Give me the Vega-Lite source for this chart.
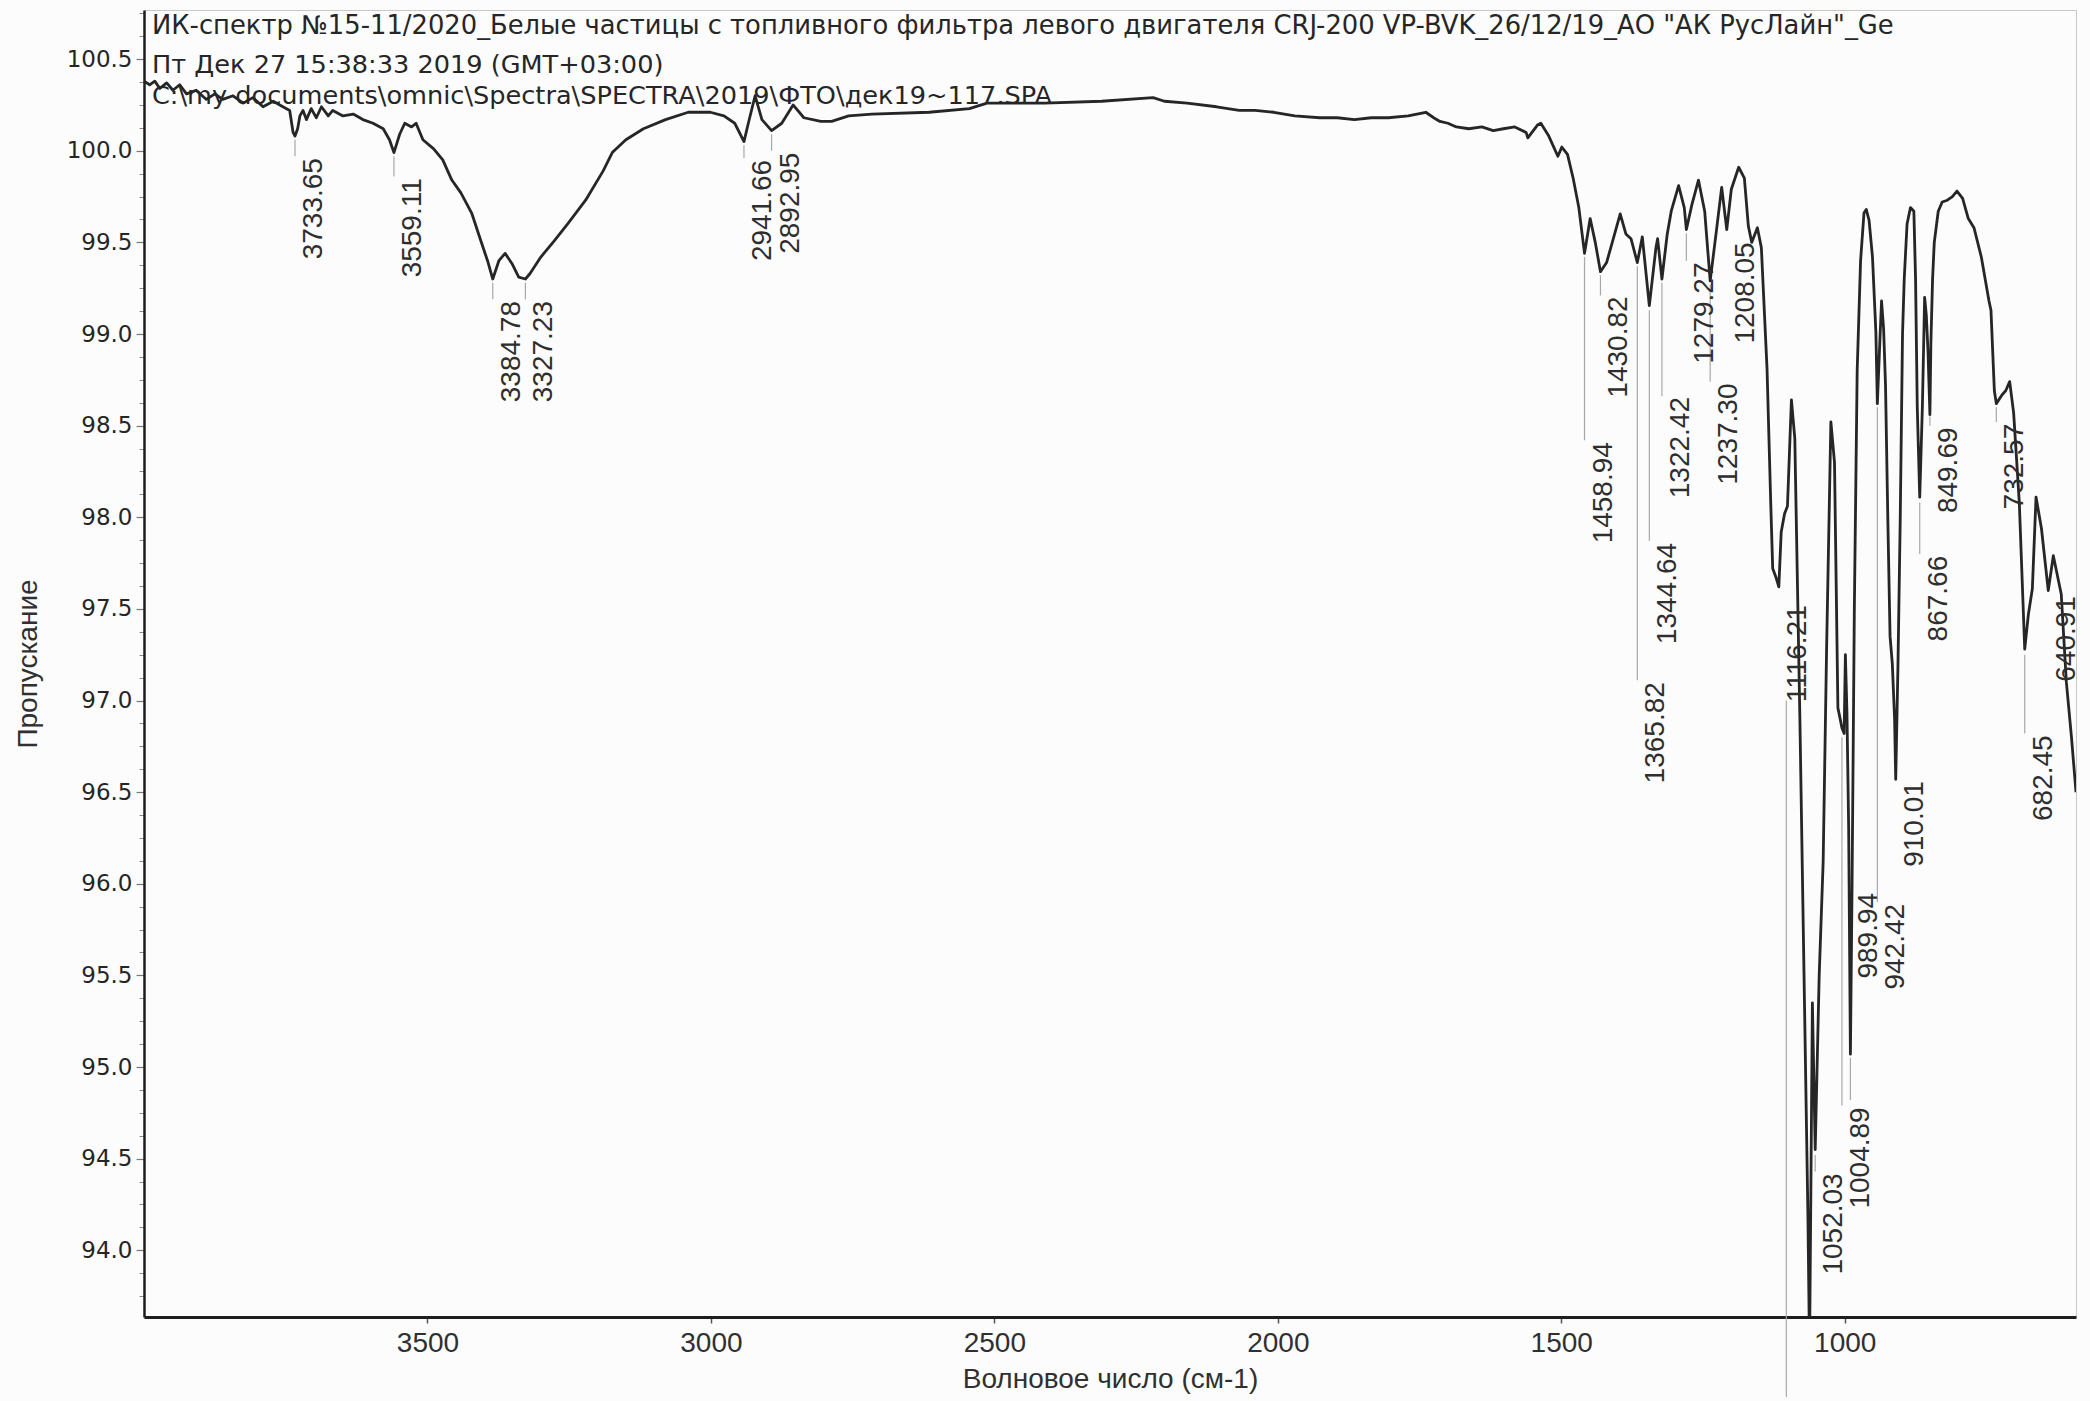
{
  "$schema": "https://vega.github.io/schema/vega-lite/v6.json",
  "width": 1932,
  "height": 1307,
  "autosize": {"type": "none"},
  "padding": {"left": 144, "top": 10, "right": 14, "bottom": 84},
  "background": "#fcfcfc",
  "title": {
    "text": "ИК-спектр №15-11/2020_Белые частицы с топливного фильтра левого двигателя CRJ-200 VP-BVK_26/12/19_АО \"АК РусЛайн\"_Ge",
    "subtitle": ["Пт Дек 27 15:38:33 2019 (GMT+03:00)", "C:\\my documents\\omnic\\Spectra\\SPECTRA\\2019\\ФТО\\дек19~117.SPA"],
    "anchor": "start",
    "frame": "group",
    "orient": "top",
    "offset": -101,
    "dx": 8,
    "font": "DejaVu Sans",
    "fontSize": 25.8,
    "fontWeight": "normal",
    "color": "#262626",
    "subtitleFont": "DejaVu Sans",
    "subtitleFontSize": 25.6,
    "subtitleColor": "#262626",
    "subtitlePadding": 14,
    "subtitleLineHeight": 31
  },
  "config": {
    "view": {"stroke": "#c8c8c8", "strokeWidth": 1},
    "axis": {"grid": false, "zindex": 1}
  },
  "datasets": {
    "spectrum": [
      {"wavenumber": 4000, "transmittance": 100.38}, {"wavenumber": 3990, "transmittance": 100.36}, {"wavenumber": 3981, "transmittance": 100.38},
      {"wavenumber": 3972, "transmittance": 100.34}, {"wavenumber": 3960, "transmittance": 100.37}, {"wavenumber": 3949, "transmittance": 100.33},
      {"wavenumber": 3937, "transmittance": 100.36}, {"wavenumber": 3925, "transmittance": 100.31}, {"wavenumber": 3908, "transmittance": 100.33},
      {"wavenumber": 3890, "transmittance": 100.28}, {"wavenumber": 3875, "transmittance": 100.31}, {"wavenumber": 3861, "transmittance": 100.28},
      {"wavenumber": 3843, "transmittance": 100.30}, {"wavenumber": 3825, "transmittance": 100.26}, {"wavenumber": 3808, "transmittance": 100.29},
      {"wavenumber": 3790, "transmittance": 100.24}, {"wavenumber": 3772, "transmittance": 100.27}, {"wavenumber": 3755, "transmittance": 100.24},
      {"wavenumber": 3743, "transmittance": 100.22}, {"wavenumber": 3737, "transmittance": 100.10}, {"wavenumber": 3733.65, "transmittance": 100.08},
      {"wavenumber": 3729, "transmittance": 100.12}, {"wavenumber": 3725, "transmittance": 100.19}, {"wavenumber": 3719.5, "transmittance": 100.22},
      {"wavenumber": 3713.5, "transmittance": 100.17}, {"wavenumber": 3705, "transmittance": 100.23}, {"wavenumber": 3696, "transmittance": 100.18},
      {"wavenumber": 3687, "transmittance": 100.24}, {"wavenumber": 3675, "transmittance": 100.19}, {"wavenumber": 3667, "transmittance": 100.22},
      {"wavenumber": 3649, "transmittance": 100.19}, {"wavenumber": 3631, "transmittance": 100.20}, {"wavenumber": 3614, "transmittance": 100.17},
      {"wavenumber": 3596, "transmittance": 100.15}, {"wavenumber": 3578, "transmittance": 100.12}, {"wavenumber": 3567, "transmittance": 100.06},
      {"wavenumber": 3559.11, "transmittance": 99.99}, {"wavenumber": 3554, "transmittance": 100.04}, {"wavenumber": 3549, "transmittance": 100.09},
      {"wavenumber": 3540, "transmittance": 100.15}, {"wavenumber": 3528, "transmittance": 100.13}, {"wavenumber": 3520, "transmittance": 100.15},
      {"wavenumber": 3508, "transmittance": 100.06}, {"wavenumber": 3489, "transmittance": 100.01}, {"wavenumber": 3473, "transmittance": 99.95},
      {"wavenumber": 3457, "transmittance": 99.84}, {"wavenumber": 3441, "transmittance": 99.77}, {"wavenumber": 3422, "transmittance": 99.66},
      {"wavenumber": 3406, "transmittance": 99.51}, {"wavenumber": 3394, "transmittance": 99.40}, {"wavenumber": 3384.78, "transmittance": 99.30},
      {"wavenumber": 3374, "transmittance": 99.40}, {"wavenumber": 3363, "transmittance": 99.44}, {"wavenumber": 3351, "transmittance": 99.385},
      {"wavenumber": 3339, "transmittance": 99.31}, {"wavenumber": 3327.23, "transmittance": 99.30}, {"wavenumber": 3319, "transmittance": 99.33},
      {"wavenumber": 3300, "transmittance": 99.42}, {"wavenumber": 3276, "transmittance": 99.51}, {"wavenumber": 3253, "transmittance": 99.60},
      {"wavenumber": 3221, "transmittance": 99.73}, {"wavenumber": 3190, "transmittance": 99.89}, {"wavenumber": 3174, "transmittance": 99.99},
      {"wavenumber": 3150, "transmittance": 100.06}, {"wavenumber": 3119, "transmittance": 100.12}, {"wavenumber": 3080, "transmittance": 100.17},
      {"wavenumber": 3040, "transmittance": 100.21}, {"wavenumber": 3001, "transmittance": 100.21}, {"wavenumber": 2977, "transmittance": 100.19},
      {"wavenumber": 2958, "transmittance": 100.15}, {"wavenumber": 2941.66, "transmittance": 100.05}, {"wavenumber": 2934, "transmittance": 100.15},
      {"wavenumber": 2922, "transmittance": 100.30}, {"wavenumber": 2910, "transmittance": 100.17}, {"wavenumber": 2892.95, "transmittance": 100.11},
      {"wavenumber": 2875, "transmittance": 100.15}, {"wavenumber": 2855, "transmittance": 100.25}, {"wavenumber": 2836, "transmittance": 100.18},
      {"wavenumber": 2806, "transmittance": 100.16}, {"wavenumber": 2787, "transmittance": 100.16}, {"wavenumber": 2757, "transmittance": 100.19},
      {"wavenumber": 2716, "transmittance": 100.20}, {"wavenumber": 2615, "transmittance": 100.21}, {"wavenumber": 2544, "transmittance": 100.23},
      {"wavenumber": 2513, "transmittance": 100.26}, {"wavenumber": 2412, "transmittance": 100.26}, {"wavenumber": 2311, "transmittance": 100.27},
      {"wavenumber": 2220, "transmittance": 100.29}, {"wavenumber": 2200, "transmittance": 100.27}, {"wavenumber": 2160, "transmittance": 100.26},
      {"wavenumber": 2108, "transmittance": 100.24}, {"wavenumber": 2068, "transmittance": 100.22}, {"wavenumber": 2040, "transmittance": 100.22},
      {"wavenumber": 2007, "transmittance": 100.21}, {"wavenumber": 1970, "transmittance": 100.19}, {"wavenumber": 1926, "transmittance": 100.18},
      {"wavenumber": 1895, "transmittance": 100.18}, {"wavenumber": 1865, "transmittance": 100.17}, {"wavenumber": 1835, "transmittance": 100.18},
      {"wavenumber": 1805, "transmittance": 100.18}, {"wavenumber": 1770, "transmittance": 100.19}, {"wavenumber": 1739, "transmittance": 100.21},
      {"wavenumber": 1725, "transmittance": 100.18}, {"wavenumber": 1714, "transmittance": 100.16}, {"wavenumber": 1700, "transmittance": 100.15},
      {"wavenumber": 1685, "transmittance": 100.13}, {"wavenumber": 1663, "transmittance": 100.12}, {"wavenumber": 1640, "transmittance": 100.13},
      {"wavenumber": 1620, "transmittance": 100.11}, {"wavenumber": 1602, "transmittance": 100.12}, {"wavenumber": 1582, "transmittance": 100.13},
      {"wavenumber": 1562, "transmittance": 100.10}, {"wavenumber": 1559, "transmittance": 100.07}, {"wavenumber": 1542, "transmittance": 100.14},
      {"wavenumber": 1536, "transmittance": 100.15}, {"wavenumber": 1522, "transmittance": 100.08}, {"wavenumber": 1506, "transmittance": 99.97},
      {"wavenumber": 1499, "transmittance": 100.02}, {"wavenumber": 1489, "transmittance": 99.98}, {"wavenumber": 1479, "transmittance": 99.85},
      {"wavenumber": 1469, "transmittance": 99.69}, {"wavenumber": 1458.94, "transmittance": 99.44}, {"wavenumber": 1449, "transmittance": 99.63},
      {"wavenumber": 1440, "transmittance": 99.50}, {"wavenumber": 1430.82, "transmittance": 99.34}, {"wavenumber": 1420, "transmittance": 99.39},
      {"wavenumber": 1410, "transmittance": 99.50}, {"wavenumber": 1396, "transmittance": 99.655}, {"wavenumber": 1386, "transmittance": 99.546},
      {"wavenumber": 1377, "transmittance": 99.52}, {"wavenumber": 1365.82, "transmittance": 99.39}, {"wavenumber": 1357, "transmittance": 99.53},
      {"wavenumber": 1344.64, "transmittance": 99.155}, {"wavenumber": 1333, "transmittance": 99.47}, {"wavenumber": 1330, "transmittance": 99.52},
      {"wavenumber": 1322.42, "transmittance": 99.30}, {"wavenumber": 1313, "transmittance": 99.546}, {"wavenumber": 1306, "transmittance": 99.67},
      {"wavenumber": 1293, "transmittance": 99.81}, {"wavenumber": 1283, "transmittance": 99.69}, {"wavenumber": 1279.27, "transmittance": 99.57},
      {"wavenumber": 1270, "transmittance": 99.70}, {"wavenumber": 1258, "transmittance": 99.84}, {"wavenumber": 1247, "transmittance": 99.67},
      {"wavenumber": 1237.3, "transmittance": 99.29}, {"wavenumber": 1227, "transmittance": 99.546}, {"wavenumber": 1217, "transmittance": 99.80},
      {"wavenumber": 1208.05, "transmittance": 99.57}, {"wavenumber": 1200, "transmittance": 99.79}, {"wavenumber": 1187, "transmittance": 99.91},
      {"wavenumber": 1177, "transmittance": 99.85}, {"wavenumber": 1170, "transmittance": 99.59}, {"wavenumber": 1164, "transmittance": 99.50},
      {"wavenumber": 1154, "transmittance": 99.58}, {"wavenumber": 1147, "transmittance": 99.47}, {"wavenumber": 1137, "transmittance": 98.81},
      {"wavenumber": 1130.5, "transmittance": 98.08}, {"wavenumber": 1127, "transmittance": 97.72}, {"wavenumber": 1121, "transmittance": 97.67},
      {"wavenumber": 1116.21, "transmittance": 97.62}, {"wavenumber": 1112, "transmittance": 97.92}, {"wavenumber": 1106, "transmittance": 98.02},
      {"wavenumber": 1101, "transmittance": 98.06}, {"wavenumber": 1094, "transmittance": 98.64}, {"wavenumber": 1088, "transmittance": 98.43},
      {"wavenumber": 1079, "transmittance": 96.89}, {"wavenumber": 1071, "transmittance": 95.36}, {"wavenumber": 1065, "transmittance": 94.21},
      {"wavenumber": 1062, "transmittance": 93.45}, {"wavenumber": 1057, "transmittance": 95.35}, {"wavenumber": 1052.03, "transmittance": 94.55},
      {"wavenumber": 1045, "transmittance": 95.5}, {"wavenumber": 1038, "transmittance": 96.12}, {"wavenumber": 1032, "transmittance": 97.27},
      {"wavenumber": 1024.4, "transmittance": 98.52}, {"wavenumber": 1018, "transmittance": 98.30}, {"wavenumber": 1012, "transmittance": 96.96},
      {"wavenumber": 1008, "transmittance": 96.90}, {"wavenumber": 1004.89, "transmittance": 96.85}, {"wavenumber": 1001, "transmittance": 96.82},
      {"wavenumber": 998.8, "transmittance": 97.25}, {"wavenumber": 996, "transmittance": 96.93}, {"wavenumber": 993, "transmittance": 96.3},
      {"wavenumber": 989.94, "transmittance": 95.07}, {"wavenumber": 987, "transmittance": 96.0}, {"wavenumber": 983, "transmittance": 97.5},
      {"wavenumber": 978, "transmittance": 98.8}, {"wavenumber": 972, "transmittance": 99.4}, {"wavenumber": 966, "transmittance": 99.66},
      {"wavenumber": 962, "transmittance": 99.68}, {"wavenumber": 957, "transmittance": 99.62}, {"wavenumber": 951, "transmittance": 99.42},
      {"wavenumber": 945, "transmittance": 99.01}, {"wavenumber": 942.42, "transmittance": 98.62}, {"wavenumber": 938, "transmittance": 98.96},
      {"wavenumber": 935, "transmittance": 99.18}, {"wavenumber": 931.4, "transmittance": 99.03}, {"wavenumber": 928, "transmittance": 98.72},
      {"wavenumber": 924, "transmittance": 98.0}, {"wavenumber": 920, "transmittance": 97.35}, {"wavenumber": 916, "transmittance": 97.2},
      {"wavenumber": 912, "transmittance": 96.9}, {"wavenumber": 910.01, "transmittance": 96.57}, {"wavenumber": 906, "transmittance": 97.2},
      {"wavenumber": 902, "transmittance": 98.0}, {"wavenumber": 898, "transmittance": 99.0}, {"wavenumber": 895, "transmittance": 99.30},
      {"wavenumber": 890, "transmittance": 99.6}, {"wavenumber": 884, "transmittance": 99.69}, {"wavenumber": 878, "transmittance": 99.67},
      {"wavenumber": 875, "transmittance": 99.30}, {"wavenumber": 872, "transmittance": 98.6}, {"wavenumber": 867.66, "transmittance": 98.11},
      {"wavenumber": 863, "transmittance": 98.6}, {"wavenumber": 859, "transmittance": 99.2}, {"wavenumber": 856, "transmittance": 99.1},
      {"wavenumber": 853, "transmittance": 98.9}, {"wavenumber": 849.69, "transmittance": 98.56}, {"wavenumber": 848, "transmittance": 98.95},
      {"wavenumber": 845, "transmittance": 99.3}, {"wavenumber": 842, "transmittance": 99.5}, {"wavenumber": 835, "transmittance": 99.67},
      {"wavenumber": 828, "transmittance": 99.72}, {"wavenumber": 819, "transmittance": 99.73}, {"wavenumber": 810, "transmittance": 99.75},
      {"wavenumber": 802, "transmittance": 99.78}, {"wavenumber": 792, "transmittance": 99.74}, {"wavenumber": 782, "transmittance": 99.63},
      {"wavenumber": 772, "transmittance": 99.58}, {"wavenumber": 759, "transmittance": 99.42}, {"wavenumber": 745.5, "transmittance": 99.18},
      {"wavenumber": 742, "transmittance": 99.13}, {"wavenumber": 736, "transmittance": 98.69}, {"wavenumber": 732.57, "transmittance": 98.62},
      {"wavenumber": 722, "transmittance": 98.67}, {"wavenumber": 716, "transmittance": 98.69}, {"wavenumber": 709, "transmittance": 98.74},
      {"wavenumber": 702, "transmittance": 98.57}, {"wavenumber": 692, "transmittance": 98.08}, {"wavenumber": 682.45, "transmittance": 97.28},
      {"wavenumber": 676, "transmittance": 97.47}, {"wavenumber": 669, "transmittance": 97.61}, {"wavenumber": 662.5, "transmittance": 98.11},
      {"wavenumber": 653, "transmittance": 97.94}, {"wavenumber": 640.91, "transmittance": 97.60}, {"wavenumber": 632, "transmittance": 97.79},
      {"wavenumber": 618, "transmittance": 97.58}, {"wavenumber": 609, "transmittance": 97.1}, {"wavenumber": 600, "transmittance": 96.8},
      {"wavenumber": 592, "transmittance": 96.5}
    ],
    "peaks": [
      {"wavenumber": 3733.65, "labelTop": 99.96}, {"wavenumber": 3559.11, "labelTop": 99.85},
      {"wavenumber": 3384.78, "labelTop": 99.18}, {"wavenumber": 3327.23, "labelTop": 99.18},
      {"wavenumber": 2941.66, "labelTop": 99.95}, {"wavenumber": 2892.95, "labelTop": 99.99},
      {"wavenumber": 1458.94, "labelTop": 98.41}, {"wavenumber": 1430.82, "labelTop": 99.205},
      {"wavenumber": 1365.82, "labelTop": 97.10}, {"wavenumber": 1344.64, "labelTop": 97.86},
      {"wavenumber": 1322.42, "labelTop": 98.656}, {"wavenumber": 1279.27, "labelTop": 99.39},
      {"wavenumber": 1237.30, "labelTop": 98.73}, {"wavenumber": 1208.05, "labelTop": 99.50},
      {"wavenumber": 1116.21, "labelTop": 97.52}, {"wavenumber": 1052.03, "labelTop": 94.42},
      {"wavenumber": 1004.89, "labelTop": 94.78}, {"wavenumber": 989.94, "labelTop": 95.95},
      {"wavenumber": 942.42, "labelTop": 95.89}, {"wavenumber": 910.01, "labelTop": 96.56},
      {"wavenumber": 867.66, "labelTop": 97.79}, {"wavenumber": 849.69, "labelTop": 98.49},
      {"wavenumber": 732.57, "labelTop": 98.51}, {"wavenumber": 682.45, "labelTop": 96.81},
      {"wavenumber": 640.91, "labelTop": 97.57}
    ],
    "leaders": [
      {"wavenumber": 3733.65, "from": 100.06, "to": 99.97}, {"wavenumber": 3559.11, "from": 99.97, "to": 99.86},
      {"wavenumber": 3384.78, "from": 99.28, "to": 99.19}, {"wavenumber": 3327.23, "from": 99.28, "to": 99.19},
      {"wavenumber": 2941.66, "from": 100.03, "to": 99.96}, {"wavenumber": 2892.95, "from": 100.09, "to": 100.0},
      {"wavenumber": 1458.94, "from": 99.42, "to": 98.42}, {"wavenumber": 1430.82, "from": 99.32, "to": 99.21},
      {"wavenumber": 1365.82, "from": 99.37, "to": 97.11}, {"wavenumber": 1344.64, "from": 99.13, "to": 97.87},
      {"wavenumber": 1322.42, "from": 99.28, "to": 98.66}, {"wavenumber": 1279.27, "from": 99.55, "to": 99.40},
      {"wavenumber": 1237.30, "from": 99.27, "to": 98.74}, {"wavenumber": 1103, "from": 97.0, "to": 93.2},
      {"wavenumber": 1052.03, "from": 94.52, "to": 94.43}, {"wavenumber": 1004.89, "from": 96.80, "to": 94.79},
      {"wavenumber": 989.94, "from": 95.05, "to": 94.82}, {"wavenumber": 942.42, "from": 98.60, "to": 95.90},
      {"wavenumber": 867.66, "from": 98.08, "to": 97.80}, {"wavenumber": 849.69, "from": 98.55, "to": 98.50},
      {"wavenumber": 732.57, "from": 98.60, "to": 98.52}, {"wavenumber": 682.45, "from": 97.25, "to": 96.82}
    ]
  },
  "resolve": {"scale": {"x": "shared", "y": "shared"}, "axis": {"x": "independent", "y": "independent"}},
  "layer": [
    {
      "data": {"name": "leaders"},
      "mark": {"type": "rule", "color": "#a8a8a8", "strokeWidth": 1.2, "clip": false},
      "encoding": {
        "x": {"field": "wavenumber", "type": "quantitative", "axis": null,
              "scale": {"domain": [592, 4000], "reverse": true, "nice": false, "zero": false}},
        "y": {"field": "from", "type": "quantitative",
              "scale": {"domain": [93.636, 100.768], "nice": false, "zero": false},
              "axis": {"orient": "left", "values": [93.75, 93.875, 94.125, 94.25, 94.375, 94.625, 94.75, 94.875, 95.125, 95.25, 95.375, 95.625, 95.75, 95.875, 96.125, 96.25, 96.375, 96.625, 96.75, 96.875, 97.125, 97.25, 97.375, 97.625, 97.75, 97.875, 98.125, 98.25, 98.375, 98.625, 98.75, 98.875, 99.125, 99.25, 99.375, 99.625, 99.75, 99.875, 100.125, 100.25, 100.375, 100.625, 100.75],
                       "labels": false, "domain": false, "title": null, "tickSize": 5, "tickColor": "#8a8a8a", "tickWidth": 1}},
        "y2": {"field": "to"}
      }
    },
    {
      "data": {"name": "spectrum"},
      "mark": {"type": "line", "color": "#262626", "strokeWidth": 2.8, "clip": true, "strokeJoin": "round"},
      "encoding": {
        "x": {"field": "wavenumber", "type": "quantitative",
              "scale": {"domain": [592, 4000], "reverse": true, "nice": false, "zero": false},
              "axis": {"orient": "bottom", "values": [3500, 3000, 2500, 2000, 1500, 1000], "format": "d",
                       "labelFont": "Liberation Sans", "labelFontSize": 28, "labelColor": "#303030",
                       "labelPadding": 6, "tickSize": 6, "tickColor": "#555555", "tickWidth": 1.5,
                       "domainColor": "#1e1e1e", "domainWidth": 3,
                       "title": "Волновое число (см-1)", "titleFont": "Liberation Sans", "titleFontSize": 28,
                       "titleFontWeight": "normal", "titleColor": "#303030", "titlePadding": 8}},
        "y": {"field": "transmittance", "type": "quantitative",
              "scale": {"domain": [93.636, 100.768], "nice": false, "zero": false},
              "axis": {"orient": "left", "values": [94, 94.5, 95, 95.5, 96, 96.5, 97, 97.5, 98, 98.5, 99, 99.5, 100, 100.5],
                       "format": ".1f", "labelFont": "DejaVu Sans", "labelFontSize": 23, "labelColor": "#252525",
                       "labelPadding": 4, "tickSize": 8, "tickColor": "#777777", "tickWidth": 1.2,
                       "domainColor": "#1e1e1e", "domainWidth": 2.5,
                       "title": "Пропускание", "titleFont": "Liberation Sans", "titleFontSize": 28,
                       "titleFontWeight": "normal", "titleColor": "#303030", "titlePadding": 24}}
      }
    },
    {
      "data": {"name": "peaks"},
      "mark": {"type": "text", "angle": 270, "align": "right", "baseline": "top", "dy": 5,
               "font": "Liberation Sans", "fontSize": 28, "color": "#2e2e2e"},
      "encoding": {
        "x": {"field": "wavenumber", "type": "quantitative", "axis": null,
              "scale": {"domain": [592, 4000], "reverse": true, "nice": false, "zero": false}},
        "y": {"field": "labelTop", "type": "quantitative", "axis": null,
              "scale": {"domain": [93.636, 100.768], "nice": false, "zero": false}},
        "text": {"field": "wavenumber", "type": "quantitative", "format": ".2f"}
      }
    }
  ]
}
